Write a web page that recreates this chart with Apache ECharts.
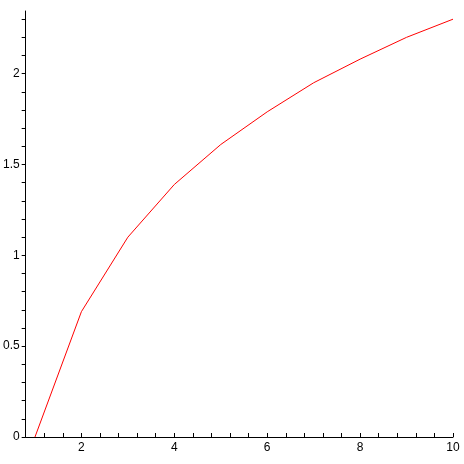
<!DOCTYPE html>
<html>
<head>
<meta charset="utf-8">
<script src="https://cdn.jsdelivr.net/npm/echarts@6/dist/echarts.min.js"></script>
<style>
  html, body { margin: 0; padding: 0; background: #fff; }
  #chart { width: 464px; height: 464px; }
</style>
</head>
<body>
<div id="chart"></div>
<script>
  // points
  var xs = [1, 2, 3, 4, 5, 6, 7, 8, 9, 10]
  var ys = [0, 0.69, 1.10, 1.39, 1.61, 1.79, 1.95, 2.08, 2.20, 2.30]

  // tick positions and labels
  var xTicks = [0.8, 1.2, 1.6, 2, 2.4, 2.8, 3.2, 3.6, 4, 4.4, 4.8, 5.2, 5.6, 6, 6.4, 6.8, 7.2, 7.6, 8, 8.4, 8.8, 9.2, 9.6, 10]
  var xLabels = [2, 4, 6, 8, 10]
  var yTicks = [0, 0.1, 0.2, 0.3, 0.4, 0.5, 0.6, 0.7, 0.8, 0.9, 1, 1.1, 1.2, 1.3, 1.4, 1.5, 1.6, 1.7, 1.8, 1.9, 2, 2.1, 2.2, 2.3]
  var yLabels = [0, 0.5, 1, 1.5, 2]

  var points = []
  for (let i = 0; i < xs.length; i++) {
    points.push([xs[i], ys[i]])
  }

  var myChart = echarts.init(document.getElementById('chart'))
  var labelStyle = {
    color: '#000',
    fontFamily: 'Liberation Sans, Arial, sans-serif',
    fontSize: 12
  }
  var option = {
    animation: false,
    grid: { left: 25, right: 11, top: 11, bottom: 27 },
    xAxis: {
      type: 'value',
      min: 0.8,
      max: 10,
      splitLine: { show: false },
      axisLine: { lineStyle: { color: '#000', width: 1 } },
      axisTick: {
        customValues: xTicks,
        inside: true,
        length: 4,
        lineStyle: { color: '#000' }
      },
      axisLabel: Object.assign({
        customValues: xLabels,
        margin: 5
      }, labelStyle)
    },
    yAxis: {
      type: 'value',
      min: 0,
      max: 2.345,
      splitLine: { show: false },
      axisLine: { lineStyle: { color: '#000', width: 1 } },
      axisTick: {
        customValues: yTicks,
        length: 4,
        lineStyle: { color: '#000' }
      },
      axisLabel: Object.assign({
        customValues: yLabels,
        margin: 6
      }, labelStyle)
    },
    series: [
      {
        type: 'line',
        data: points,
        showSymbol: false,
        lineStyle: { color: '#ff0000', width: 1 }
      }
    ]
  }
  myChart.setOption(option)
</script>
</body>
</html>
